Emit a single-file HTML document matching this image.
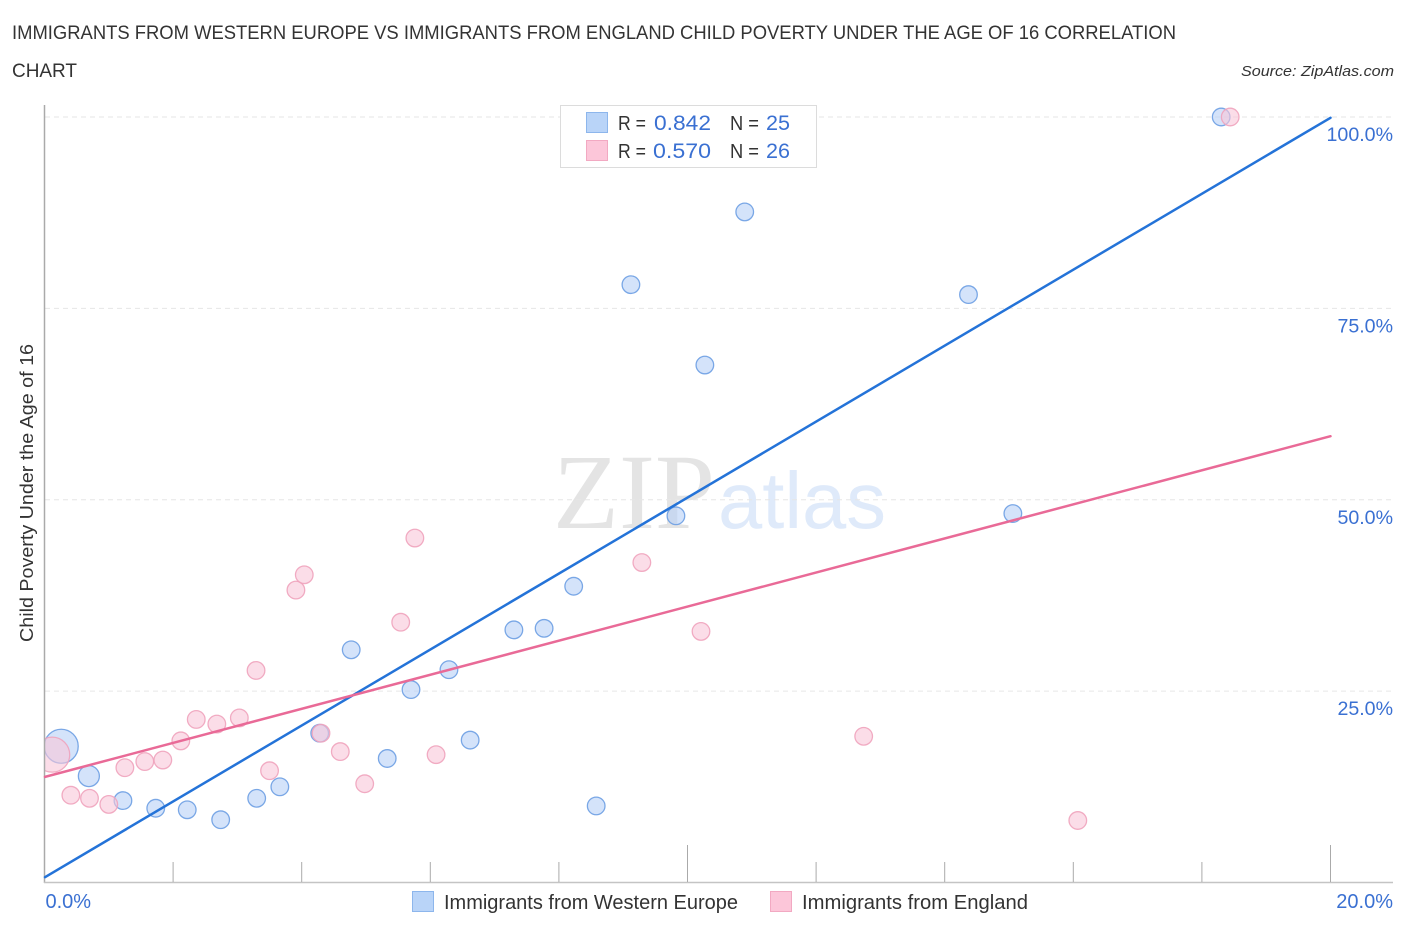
<!DOCTYPE html>
<html lang="en">
<head>
<meta charset="utf-8">
<title>Child Poverty Correlation Chart</title>
<style>
html,body{margin:0;padding:0;background:#fff;width:1406px;height:930px;overflow:hidden}
svg{display:block;font-family:"Liberation Sans",sans-serif}
</style>
</head>
<body>
<svg id="chart" xmlns="http://www.w3.org/2000/svg" width="1406" height="930" viewBox="0 0 1406 930">
  <rect x="0" y="0" width="1406" height="930" fill="#fff"/>
  <text x="12" y="39" font-size="19" fill="#333" textLength="1164" lengthAdjust="spacingAndGlyphs">IMMIGRANTS FROM WESTERN EUROPE VS IMMIGRANTS FROM ENGLAND CHILD POVERTY UNDER THE AGE OF 16 CORRELATION</text>
  <text x="12" y="77" font-size="19" fill="#333" textLength="65" lengthAdjust="spacingAndGlyphs">CHART</text>
  <text x="1241" y="76" font-size="15" font-style="italic" fill="#333" textLength="153" lengthAdjust="spacingAndGlyphs">Source: ZipAtlas.com</text>

  <g>
    <text x="553" y="528" font-family="'Liberation Serif',serif" font-size="107" fill="#e4e4e4" textLength="162" lengthAdjust="spacingAndGlyphs">ZIP</text>
    <text x="718" y="528" font-family="'Liberation Sans',sans-serif" font-size="80" fill="#dfeafa" textLength="168" lengthAdjust="spacingAndGlyphs">atlas</text>
  </g>

  <g id="grid"></g>
  <g id="points"></g>
  <rect x="0" y="700" width="44" height="100" fill="#fff"/>
  <g id="axes"></g>
  <g id="trends"></g>
  <g id="labels"></g>

  <text transform="translate(33 642) rotate(-90)" font-size="18" fill="#333" textLength="298" lengthAdjust="spacingAndGlyphs">Child Poverty Under the Age of 16</text>

  <g>
    <rect x="560.5" y="105.5" width="256" height="62" fill="#fff" stroke="#dcdcdc"/>
    <rect x="586.5" y="112.5" width="21" height="20" fill="#b9d4f8" stroke="#8db6ec"/>
    <rect x="586.5" y="140.5" width="21" height="20" fill="#fcc6d9" stroke="#f2a9c2"/>
    <text x="618" y="130" font-size="20" fill="#333" textLength="28" lengthAdjust="spacingAndGlyphs">R =</text>
    <text x="654" y="130" font-size="21" fill="#3a70d2" textLength="57" lengthAdjust="spacingAndGlyphs">0.842</text>
    <text x="730" y="130" font-size="20" fill="#333" textLength="29" lengthAdjust="spacingAndGlyphs">N =</text>
    <text x="766" y="130" font-size="21" fill="#3a70d2" textLength="24" lengthAdjust="spacingAndGlyphs">25</text>
    <text x="618" y="158" font-size="20" fill="#333" textLength="28" lengthAdjust="spacingAndGlyphs">R =</text>
    <text x="653" y="158" font-size="21" fill="#3a70d2" textLength="58" lengthAdjust="spacingAndGlyphs">0.570</text>
    <text x="730" y="158" font-size="20" fill="#333" textLength="29" lengthAdjust="spacingAndGlyphs">N =</text>
    <text x="766" y="158" font-size="21" fill="#3a70d2" textLength="24" lengthAdjust="spacingAndGlyphs">26</text>
  </g>

  <g>
    <g>
      <rect x="412.5" y="891.5" width="21" height="20" fill="#b9d4f8" stroke="#8db6ec"/>
      <text x="444" y="909" font-size="20" fill="#333" textLength="294" lengthAdjust="spacingAndGlyphs">Immigrants from Western Europe</text>
    </g>
    <g>
      <rect x="770.5" y="891.5" width="21" height="20" fill="#fcc6d9" stroke="#f2a9c2"/>
      <text x="802" y="909" font-size="20" fill="#333" textLength="226" lengthAdjust="spacingAndGlyphs">Immigrants from England</text>
    </g>
  </g>
</svg>

<script>
// Data (x: percent immigrants, y: child poverty %, size: marker radius)
var westernEuropeX = [0.26,0.69,1.22,1.73,2.22,2.74,3.30,3.66,4.28,4.77,5.33,5.70,6.29,6.62,7.30,7.77,8.23,8.58,9.12,9.82,10.27,10.89,14.37,15.06,18.30];
var westernEuropeY = [17.8,13.9,10.7,9.7,9.5,8.2,11.0,12.5,19.5,30.4,16.2,25.2,27.8,18.6,33.0,33.2,38.7,10.0,78.1,47.9,67.6,87.6,76.8,48.2,100];
var westernEuropeSize = [17,10.5,8.8,8.8,8.8,8.8,8.8,8.8,8.8,8.8,8.8,8.8,8.8,8.8,8.8,8.8,8.8,8.8,8.8,8.8,8.8,8.8,8.8,8.8,8.8];
var englandX = [0.12,0.41,0.70,1.00,1.25,1.56,1.84,2.12,2.36,2.68,3.03,3.29,3.50,3.91,4.04,4.30,4.60,4.98,5.54,5.76,6.09,9.29,10.21,12.74,16.07,18.44];
var englandY = [16.7,11.4,11.0,10.2,15.0,15.8,16.0,18.5,21.3,20.7,21.5,27.7,14.6,38.2,40.2,19.5,17.1,12.9,34.0,45.0,16.7,41.8,32.8,19.1,8.1,100];
var englandSize = [17.5,8.8,8.8,8.8,8.8,8.8,8.8,8.8,8.8,8.8,8.8,8.8,8.8,8.8,8.8,8.8,8.8,8.8,8.8,8.8,8.8,8.8,8.8,8.8,8.8,8.8];
var trendX = [0,20];
var westernEuropeTrend = [0.7,99.9];
var englandTrend = [13.8,58.3];
var yTicks = [25,50,75,100];
var yTickLabels = ["25.0%","50.0%","75.0%","100.0%"];
var xMinorTicks = [2,4,6,8,12,14,16,18];
var xMajorTicks = [10,20];
var xEndValues = [0,20];
var xEndLabels = ["0.0%","20.0%"];

var SVGNS = "http://www.w3.org/2000/svg";
function xScale(v){ return 44.5 + v * (1330.5 - 44.5) / 20; }
function yScale(v){ return 882.5 - v * (882.5 - 117) / 100; }
function make(tag, attrs, parent){
  var el = document.createElementNS(SVGNS, tag);
  for (var k in attrs) el.setAttribute(k, attrs[k]);
  parent.appendChild(el);
  return el;
}
var grid = document.getElementById("grid");
var axes = document.getElementById("axes");
var points = document.getElementById("points");
var trends = document.getElementById("trends");
var labels = document.getElementById("labels");

yTicks.forEach(function(v, i){
  var gl = make("line", {x1:45, x2:1393, y1:yScale(v), y2:yScale(v), stroke:"#e6e6e6", "stroke-width":1, "stroke-dasharray":"5 4"}, grid);
  
  
  var t = make("text", {x:1393, y:yScale(v) + 24, "text-anchor":"end", "font-size":19.6, fill:"#3a70d2"}, labels);
  t.textContent = yTickLabels[i];
  
  
});

var yAxis = make("line", {x1:44.5, x2:44.5, y1:105, y2:883, stroke:"#aaa", "stroke-width":1.5}, axes);


var xAxis = make("line", {x1:44, x2:1393, y1:882.5, y2:882.5, stroke:"#c4c4c4", "stroke-width":1.5}, axes);



xMinorTicks.forEach(function(v){
  var tk = make("line", {x1:xScale(v), x2:xScale(v), y1:862, y2:882, stroke:"#aaa", "stroke-width":1}, axes);
  
  
});
xMajorTicks.forEach(function(v){
  var tk = make("line", {x1:xScale(v), x2:xScale(v), y1:845, y2:882, stroke:"#aaa", "stroke-width":1}, axes);
  
  
});
xEndValues.forEach(function(v, i){
  var t = make("text", {x: i === 0 ? xScale(v) + 1 : 1393, y:908, "text-anchor": i === 0 ? "start" : "end", "font-size":20, fill:"#3a70d2"}, labels);
  t.textContent = xEndLabels[i];
  
  
});

function drawPoints(xs, ys, sizes, fill, stroke, prefix){
  xs.forEach(function(x, i){
    var c = make("circle", {cx:xScale(x), cy:yScale(ys[i]), r:sizes[i], fill:fill, "fill-opacity":0.6, stroke:stroke, "stroke-opacity":0.9, "stroke-width":1.3}, points);
    
    
  });
}
drawPoints(westernEuropeX, westernEuropeY, westernEuropeSize, "#b7d1f6", "#6d9fe3", "western-europe");
drawPoints(englandX, englandY, englandSize, "#f9c6d8", "#f0a3bd", "england");

var tb = make("line", {x1:xScale(trendX[0]) + 0.5, x2:xScale(trendX[1]), y1:yScale(westernEuropeTrend[0]), y2:yScale(westernEuropeTrend[1]), stroke:"#2473d8", "stroke-width":2.5, "stroke-linecap":"round"}, trends);


var tp = make("line", {x1:xScale(trendX[0]) + 0.5, x2:xScale(trendX[1]), y1:yScale(englandTrend[0]), y2:yScale(englandTrend[1]), stroke:"#e96a97", "stroke-width":2.5, "stroke-linecap":"round"}, trends);


</script>
</body>
</html>
